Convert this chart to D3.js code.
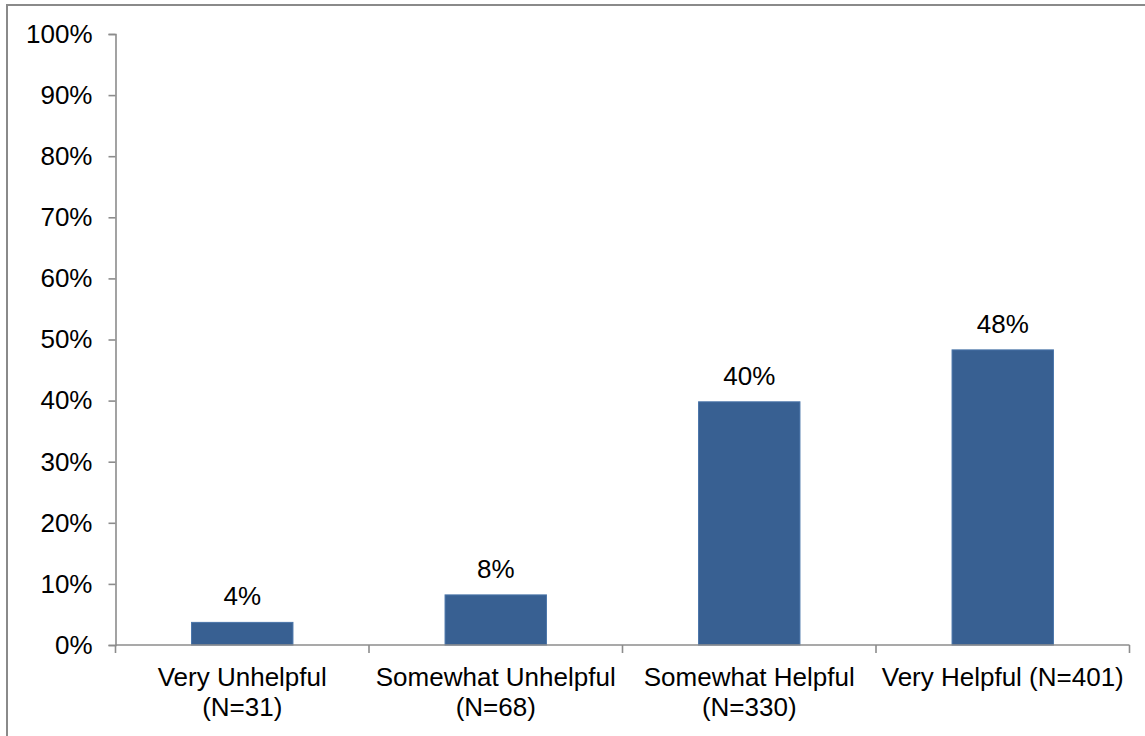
<!DOCTYPE html>
<html>
<head>
<meta charset="utf-8">
<script src="https://cdn.jsdelivr.net/npm/d3@7"></script>
<style>
  html, body { margin: 0; padding: 0; background: #fff; }
  svg { display: block; font-family: "Liberation Sans", Arial, sans-serif; }
</style>
</head>
<body>
<svg id="chart" width="1145" height="736"></svg>
<script>
// Share of respondents by rating of helpfulness
const categories = [
  "Very Unhelpful (N=31)",
  "Somewhat Unhelpful (N=68)",
  "Somewhat Helpful (N=330)",
  "Very Helpful (N=401)"
];
const shares = [0.037, 0.082, 0.398, 0.483];
const yTicks = [0, 0.1, 0.2, 0.3, 0.4, 0.5, 0.6, 0.7, 0.8, 0.9, 1.0];

const svg = d3.select("#chart");
const W = 1145, H = 736;
const fontSize = 26;
const axisColor = "#8c8c8c";
const barFill = "#386092";
const barEdge = "#4a75a9";

// Chart frame (runs off the right and bottom edges)
svg.append("rect")
  .attr("x", 7).attr("y", 5)
  .attr("width", W + 20).attr("height", H + 20)
  .attr("fill", "#fff")
  .attr("stroke", "#8a8a8a")
  .attr("stroke-width", 2);

const plot = { left: 115.5, right: 1129.5, top: 34, bottom: 645 };

const x = d3.scaleBand()
  .domain(categories)
  .range([plot.left, plot.right])
  .paddingInner(0.6)
  .paddingOuter(0.3);

const y = d3.scaleLinear()
  .domain([0, 1])
  .range([plot.bottom, plot.top]);

// Y axis
const yAxis = svg.append("g")
  .attr("transform", `translate(${plot.left},0)`)
  .call(d3.axisLeft(y)
    .tickValues(yTicks)
    .tickFormat(d3.format(".0%"))
    .tickSize(7)
    .tickPadding(16));
yAxis.select(".domain").attr("stroke", axisColor).attr("stroke-width", 1.6);
yAxis.selectAll(".tick line").attr("stroke", axisColor).attr("stroke-width", 1.6);
yAxis.selectAll(".tick text")
  .attr("fill", "#000")
  .style("font-size", fontSize + "px")
  .style("font-family", "'Liberation Sans', Arial, sans-serif");

// Bars
svg.append("g").selectAll("rect")
  .data(categories)
  .join("rect")
  .attr("x", d => x(d))
  .attr("y", (d, i) => y(shares[i]))
  .attr("width", x.bandwidth())
  .attr("height", (d, i) => y(0) - y(shares[i]))
  .attr("fill", barFill)
  .attr("stroke", barEdge)
  .attr("stroke-width", 1);

// Value labels above bars
svg.append("g").selectAll("text")
  .data(categories)
  .join("text")
  .attr("x", d => x(d) + x.bandwidth() / 2)
  .attr("y", (d, i) => y(shares[i]) - 17)
  .attr("text-anchor", "middle")
  .style("font-size", fontSize + "px")
  .attr("fill", "#000")
  .text((d, i) => d3.format(".0%")(shares[i]));

// X axis baseline with ticks at category boundaries
const xAxisG = svg.append("g");
xAxisG.append("line")
  .attr("x1", plot.left).attr("x2", plot.right)
  .attr("y1", y(0)).attr("y2", y(0))
  .attr("stroke", axisColor).attr("stroke-width", 1.6);
const boundaries = d3.range(categories.length + 1).map(i => plot.left + i * x.step());
xAxisG.selectAll("line.tick")
  .data(boundaries)
  .join("line")
  .attr("class", "tick")
  .attr("x1", d => d).attr("x2", d => d)
  .attr("y1", y(0)).attr("y2", y(0) + 8)
  .attr("stroke", axisColor).attr("stroke-width", 1.6);

// Category labels, wrapped to the width of one category slot
const labelG = svg.append("g")
  .style("font-size", fontSize + "px")
  .attr("fill", "#000");
categories.forEach(cat => {
  const cx = x(cat) + x.bandwidth() / 2;
  const t = labelG.append("text")
    .attr("x", cx).attr("y", 686)
    .attr("text-anchor", "middle");
  const words = cat.split(" ");
  let lines = [];
  let current = [];
  const probe = t.append("tspan");
  words.forEach(w => {
    const trial = current.concat([w]).join(" ");
    probe.text(trial);
    if (probe.node().getComputedTextLength() > x.step() - 2 && current.length) {
      lines.push(current.join(" "));
      current = [w];
    } else {
      current.push(w);
    }
  });
  lines.push(current.join(" "));
  probe.remove();
  lines.forEach((line, i) => {
    t.append("tspan")
      .attr("x", cx)
      .attr("y", 686 + i * 30)
      .text(line);
  });
});
</script>
</body>
</html>
